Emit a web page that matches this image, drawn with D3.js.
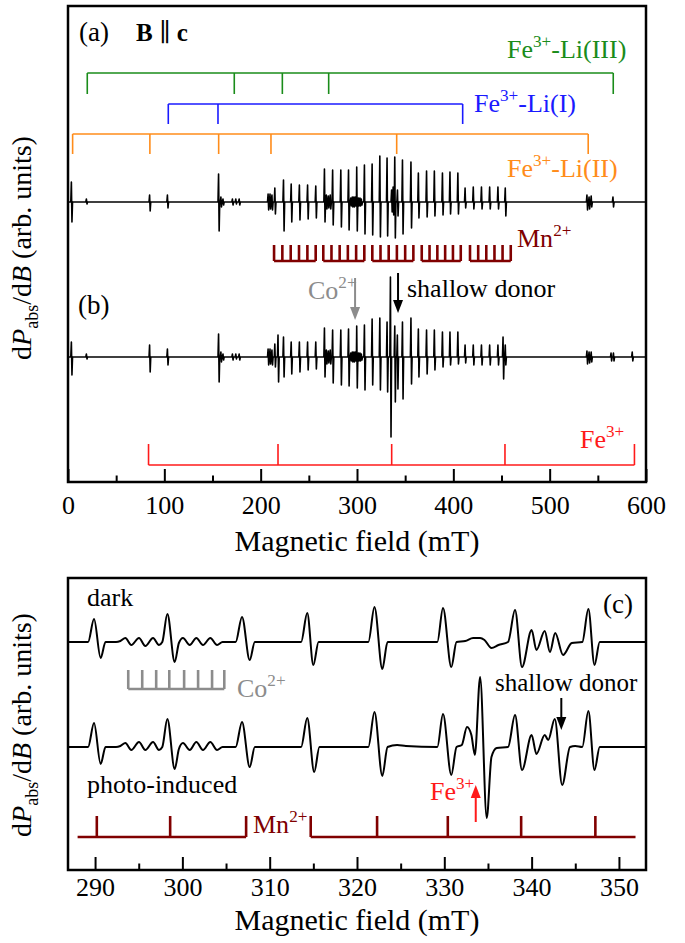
<!DOCTYPE html>
<html>
<head>
<meta charset="utf-8">
<script src="https://cdnjs.cloudflare.com/ajax/libs/d3/7.8.5/d3.min.js"></script>
<style>
body { margin: 0; background: #fff; }
svg { display: block; }
</style>
</head>
<body>
<svg width="685" height="943"></svg>
<script>
"use strict";

// ---- data ----

// (a)/(b): Mn2+ hyperfine lines in the spectra (mT) and their up / down swing
var mnLineFields = [215, 224, 232, 240.5, 249, 257.5,
  266.5, 275, 283.5, 291.5, 300, 308,
  316, 324, 331.5, 339.5, 347.5, 356.3,
  364, 372.5, 380.6, 389, 396.8, 405,
  412.5, 421, 429.5, 438, 446.6, 454.2];
var mnUpA   = [14,22,18,17,17,16, 33,32,32,32,35,37, 38,46,44,45,42,40, 29,31,31,29,30,29, 14,15,15,15,15,14];
var mnDownA = [12,29,20,18,17,16, 20,23,25,28,29,32, 33,35,34,36,32,26, 16,15,14,13,12,12,  6, 7, 7, 7, 7,14];
var mnUpB   = [13,20,15,15,15,15, 29,27,27,28,31,32, 38,39,35,31,35,39, 28,27,27,25,25,25, 12,12,12,12,12,12];
var mnDownB = [10,20,17,15,13,12, 20,26,28,29,31,33, 28,33,35,45,42,27, 20,17,13,10, 8, 7,  6, 8, 8, 8, 8, 8];

// other lines: [field, up, down]
var otherLinesA = [[3.8,20,20],[19.4,3,2],[85,7,9],[103.5,7,6],[156.6,28,29],[159,5,5],[161.2,3,3],
  [171,3,3],[174.5,3,2],[178,3,3],[208,8,8],[210,8,7],[212,7,8],
  [268.5,7,7],[270.5,6,6],[272.5,7,7],
  [293.8,4,4],[295.4,5,5],[297,5,5],[298.5,5,4],[301.8,4,4],[303.4,4,4],[304.8,3,3],
  [336.2,12,10],[337.8,15,13],[342.3,12,14],
  [539,7,8],[541.2,5,7],[543.4,6,5],[566,5,5]];
var otherLinesB = [[3.8,15,18],[19.4,3,2],[85,12,15],[103.5,8,8],[156.6,23,25],[159,5,5],[161.2,3,3],
  [171,3,3],[174.5,3,2],[178,3,3],[208,8,8],[210,8,7],[212,7,8],[218.3,22,25],
  [268.5,7,7],[270.5,6,6],[272.5,7,7],
  [293.8,4,4],[295.4,5,5],[297,5,5],[298.5,5,4],[301.8,4,4],[303.4,4,4],[304.8,3,3],
  [335,80,80],[342.2,22,32],[451.9,20,22],
  [539,6,7],[541.2,5,6],[543.4,5,5],[564,4,4],[566.5,4,4],[586,5,4]];

// stick diagrams of (a)/(b)
var feLi3Fields = [20, 172.6, 222.5, 270.6, 566];
var feLi1Fields = [104.1, 155.7, 409.7];
var feLi2Fields = [4.8, 85, 156.4, 210.7, 341.2, 540];
var mnCombFields = [[213.9, 222.5, 231.2, 239.8, 248.5, 257.1],
  [265.0, 273.5, 282.0, 290.5, 299.1, 307.6],
  [315.9, 324.4, 332.9, 341.4, 350.0, 358.5],
  [367.2, 375.3, 383.4, 391.5, 399.6, 407.7],
  [417.3, 425.8, 434.2, 442.7, 451.1, 459.6]];
var fe3Fields = [83.6, 218, 336, 453.6, 588];
var coArrowField = 298, donorArrowField = 342.6;

// (c): traces as [field, signal]
var darkTrace = [[286.9,0],[289.2,0],[289.88,23],[290.64,-16],[291.2,0],[292.4,0],[292.9,1],
  [293.47,4],[294.15,-3],[295.03,4],[295.76,-4],[296.64,4],[297.32,-3],[297.7,0],
  [298.28,28],[299.12,-20],[299.6,-1],
  [300.07,4],[300.84,-3],[301.6,4],[302.36,-3],[303.2,4],[303.97,-3],[304.6,0],[306.1,0],
  [306.83,25],[307.71,-18],[308.3,0],
  [313.6,0],[314.3,29],[315.0,-23],[315.6,0],
  [321.3,0],[322.0,35],[322.9,-27],[323.5,0],
  [329.2,0],[329.85,34],[330.8,-25],[331.4,0],
  [332.4,1],[333.3,4],[334.1,4],[334.6,2],[335.4,-6],[336.2,-3],[337.3,0],
  [338.1,32],[338.9,-25],[340.0,12],[340.55,-8],[341.5,11],[342.1,-10],[342.7,9],[343.6,-13],[344.6,-1],[345.8,0],
  [346.5,33],[347.2,-23],[347.8,0],[353.1,0]];
var photoTrace = [[286.9,0],[289.2,0],[289.88,24],[290.64,-17],[291.2,0],[292.4,0],[292.9,1],
  [293.47,4],[294.15,-3],[295.03,5],[295.76,-3],[296.64,5],[297.32,-3],[297.7,0],
  [298.28,28],[299.12,-22],[299.6,-2],
  [300.07,4],[300.84,-3],[301.6,5],[302.36,-3],[303.2,5],[303.97,-3],[304.6,0],[306.1,0],
  [306.83,25],[307.71,-20],[308.3,0],
  [313.6,0],[314.3,29],[315.1,-25],[315.7,0],
  [321.3,0],[322.0,35],[322.9,-29],[323.5,0],[324.6,2],[325.6,1],
  [329.2,0],[329.85,33],[330.8,-28],[331.4,0],[332.0,2],[332.6,20],[333.1,12],[333.5,-8],
  [334.1,70],[334.86,-71],[335.4,-10],[336.0,-1],[337.3,0],
  [338.1,32],[338.9,-23],[340.0,12],[340.55,-7],[341.5,12],[341.9,7],[342.65,28],[343.5,-38],[344.4,0],[345.0,1],[345.8,0],
  [346.5,36],[347.2,-23],[347.8,0],[353.1,0]];

var coCombFields = [293.8, 295.4, 297.0, 298.5, 300.2, 301.8, 303.4, 304.8];
var mnFieldsC = [290.2, 298.6, 307.3, 314.7, 322.3, 330.4, 338.8, 347.3];
var mnBracketsC = [[288.0, 307.3], [314.7, 351.9]];
var feArrowFieldC = 333.6, donorArrowFieldC = 343.4;

var ticksA = [0, 100, 200, 300, 400, 500, 600];
var minorA = [50, 150, 250, 350, 450, 550];
var ticksC = [290, 300, 310, 320, 330, 340, 350];
var minorC = [295, 305, 315, 325, 335, 345];

// ---- drawing ----
var FONT = "'Liberation Serif', 'Times New Roman', Times, 'DejaVu Serif', serif";
var svg = d3.select("svg").attr("font-family", FONT);
var L = 68, R = 646;
var GREEN = "#1a8c1a", BLUE = "#1a1aff", ORANGE = "#ff8c1a", MN = "#800000", RED = "#ff1a1a", GREY = "#8c8c8c";

var xA = d3.scaleLinear().domain([0, 600]).range([L, R]);
var yA = d3.scaleLinear().domain([0, 476]).range([482, 6]);
var xC = d3.scaleLinear().domain([286.9, 353.1]).range([L, R]);
var yC = d3.scaleLinear().domain([0, 292]).range([870, 578]);

function spectrum(fields, ups, downs, others) {
  var lines = fields.map(function(f, i) { return [f, ups[i], downs[i]]; }).concat(others);
  var pts = [[0, 0], [600, 0]];
  lines.forEach(function(l) {
    pts.push([l[0] - 0.9, 0], [l[0] - 0.3, l[1]], [l[0] + 0.3, -l[2]], [l[0] + 0.9, 0]);
  });
  pts.sort(function(a, b) { return a[0] - b[0]; });
  return pts;
}

function trace(x, y, offset, data, curve, w) {
  var line = d3.line().x(function(d) { return x(d[0]); }).y(function(d) { return y(offset + d[1]); });
  if (curve) line.curve(curve);
  svg.append("path").attr("d", line(data)).attr("fill", "none")
    .attr("stroke", "#000").attr("stroke-width", w).attr("stroke-linejoin", "round");
}

// bracket: bar from x0 to x1 at yBar, ticks at fields going to yTip
function bracket(x, x0, x1, fields, yBar, yTip, color, w) {
  svg.append("line").attr("x1", x(x0)).attr("x2", x(x1)).attr("y1", yBar).attr("y2", yBar)
    .attr("stroke", color).attr("stroke-width", w);
  fields.forEach(function(f) {
    svg.append("line").attr("x1", x(f)).attr("x2", x(f)).attr("y1", yBar).attr("y2", yTip)
      .attr("stroke", color).attr("stroke-width", w);
  });
}

function supLabel(x, y, base, sup, rest, color, size) {
  var t = svg.append("text").attr("x", x).attr("y", y).attr("fill", color).style("font-size", size + "px");
  t.append("tspan").text(base);
  t.append("tspan").attr("dy", -size * 0.42).style("font-size", (size * 0.66) + "px").text(sup);
  if (rest) t.append("tspan").attr("dy", size * 0.42).text(rest);
  return t;
}

function plainLabel(x, y, txt, color, size) {
  return svg.append("text").attr("x", x).attr("y", y).attr("fill", color).style("font-size", size + "px").text(txt);
}

function arrow(x, y1, y2, color) {
  var dir = y2 > y1 ? 1 : -1, hl = 13, hw = 5;
  svg.append("line").attr("x1", x).attr("x2", x).attr("y1", y1).attr("y2", y2 - dir * hl)
    .attr("stroke", color).attr("stroke-width", 2);
  svg.append("path").attr("d", "M" + (x - hw) + "," + (y2 - dir * hl) + "L" + (x + hw) + "," + (y2 - dir * hl) + "L" + x + "," + y2 + "Z")
    .attr("fill", color);
}

function axes(x, yBottom, yTop, major, minor, pad, titleY, yLabelY) {
  var gMaj = svg.append("g").attr("transform", "translate(0," + yBottom + ")")
    .call(d3.axisBottom(x).tickValues(major).tickSize(-13).tickPadding(pad).tickFormat(d3.format("d")));
  var gMin = svg.append("g").attr("transform", "translate(0," + yBottom + ")")
    .call(d3.axisBottom(x).tickValues(minor).tickSize(-6.5).tickFormat(""));
  [gMaj, gMin].forEach(function(g) {
    g.attr("font-family", FONT);
    g.select(".domain").remove();
    g.selectAll("line").attr("stroke", "#000").attr("stroke-width", 2);
  });
  gMaj.selectAll("text").attr("fill", "#000").style("font-size", "26px");
  svg.append("rect").attr("x", L).attr("y", yTop).attr("width", R - L).attr("height", yBottom - yTop)
    .attr("fill", "none").attr("stroke", "#000").attr("stroke-width", 2.5);
  svg.append("text").attr("x", (L + R) / 2).attr("y", titleY).attr("text-anchor", "middle")
    .style("font-size", "30px").text("Magnetic field (mT)");
  var t = svg.append("text").attr("transform", "translate(31," + yLabelY + ") rotate(-90)")
    .attr("text-anchor", "middle").style("font-size", "28px");
  t.append("tspan").text("d");
  t.append("tspan").style("font-style", "italic").text("P");
  t.append("tspan").attr("dy", 7).style("font-size", "18px").text("abs");
  t.append("tspan").attr("dy", -7).text("/d");
  t.append("tspan").style("font-style", "italic").text("B");
  t.append("tspan").text(" (arb. units)");
}

// panel (a)/(b)
axes(xA, 482, 6, ticksA, minorA, 14, 551, 248);

bracket(xA, feLi3Fields[0], feLi3Fields[feLi3Fields.length - 1], feLi3Fields, 73, 94, GREEN, 1.6);
bracket(xA, feLi1Fields[0], feLi1Fields[feLi1Fields.length - 1], feLi1Fields, 104, 124, BLUE, 1.6);
bracket(xA, feLi2Fields[0], feLi2Fields[feLi2Fields.length - 1], feLi2Fields, 134, 154, ORANGE, 1.6);
mnCombFields.forEach(function(g) { bracket(xA, g[0], g[g.length - 1], g, 261, 245, MN, 2.6); });
bracket(xA, fe3Fields[0], fe3Fields[fe3Fields.length - 1], fe3Fields, 465, 444, RED, 1.6);

trace(xA, yA, 280, spectrum(mnLineFields, mnUpA, mnDownA, otherLinesA), null, 1.6);
trace(xA, yA, 125, spectrum(mnLineFields, mnUpB, mnDownB, otherLinesB), null, 1.6);

plainLabel(79, 41, "(a)", "#000", 27);
var bc = svg.append("text").attr("x", 136).attr("y", 41).style("font-size", "25px");
bc.append("tspan").style("font-weight", "bold").text("B");
bc.append("tspan").text(" \u2225 ");
bc.append("tspan").style("font-weight", "bold").text("c");
supLabel(507, 58, "Fe", "3+", "-Li(III)", GREEN, 26);
supLabel(474, 112, "Fe", "3+", "-Li(I)", BLUE, 26);
supLabel(507, 177, "Fe", "3+", "-Li(II)", ORANGE, 26);
supLabel(517, 247, "Mn", "2+", null, MN, 26);
plainLabel(78, 314, "(b)", "#000", 27);
supLabel(308, 299, "Co", "2+", null, GREY, 26);
arrow(xA(coArrowField), 278, 320, GREY);
plainLabel(407, 297, "shallow donor", "#000", 26);
arrow(xA(donorArrowField), 273, 313, "#000");
supLabel(580, 448, "Fe", "3+", null, RED, 26);

// panel (c)
axes(xC, 870, 578, ticksC, minorC, 8, 930, 725);

trace(xC, yC, 228, darkTrace, d3.curveMonotoneX, 2);
trace(xC, yC, 123, photoTrace, d3.curveMonotoneX, 2);

bracket(xC, coCombFields[0], coCombFields[coCombFields.length - 1], coCombFields, 689, 670, GREY, 2.6);
mnBracketsC.forEach(function(b) {
  var ticks = mnFieldsC.filter(function(f) { return f >= b[0] && f <= b[1]; });
  bracket(xC, b[0], b[1], ticks, 837, 816, MN, 2.6);
});

plainLabel(87, 606, "dark", "#000", 26);
plainLabel(87, 793, "photo-induced", "#000", 26);
plainLabel(603, 613, "(c)", "#000", 27);
supLabel(237, 697, "Co", "2+", null, GREY, 26);
plainLabel(495, 691, "shallow donor", "#000", 25);
arrow(xC(donorArrowFieldC), 698, 730, "#000");
supLabel(430, 800, "Fe", "3+", null, RED, 26);
arrow(xC(feArrowFieldC), 822, 785, RED);
supLabel(253, 833, "Mn", "2+", null, MN, 26);

// same face everywhere
svg.selectAll("text").style("font-family", FONT);
</script>
</body>
</html>
